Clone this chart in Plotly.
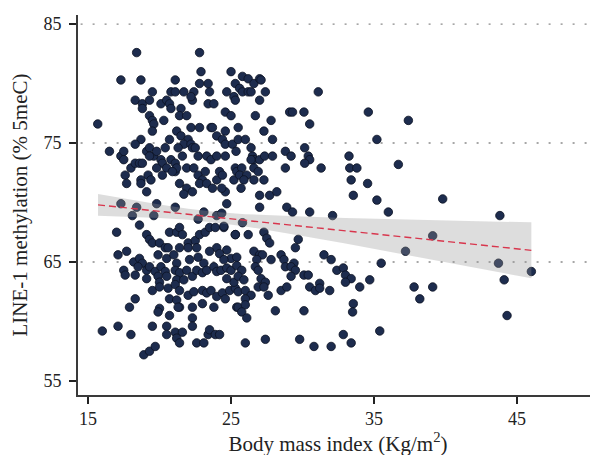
import plotly.graph_objects as go

# ---- data ----
bmi = [
15.68,18.4,22.8,17.3,18.7,21.1,22.9,25.0,
19.5,20.8,21.1,21.7,22.4,22.8,23.4,23.5,24.7,25.2,25.3,
18.3,18.8,19.3,18.8,20.1,20.5,20.7,20.8,21.5,21.4,21.9,22.3,22.2,23.4,23.8,24.6,25.0,
19.3,19.5,19.6,19.5,20.3,22.2,22.8,23.6,23.7,24.6,25.5,
21.2,21.5,22.0,20.7,18.7,18.3,21.7,22.2,22.3,22.5,
24.0,24.4,24.6,25.1,25.5,16.5,17.3,17.5,17.5,
18.0,18.3,18.6,18.8,19.1,19.3,19.6,19.8,19.3,
20.4,20.1,20.8,20.2,21.1,21.3,
19.8,20.5,21.1,21.2,21.6,21.9,22.4,22.7,23.3,23.6,24.0,24.6,
17.6,17.7,18.7,18.7,19.2,19.4,19.1,
20.2,20.9,21.4,21.9,21.7,22.3,22.7,23.0,22.8,23.2,23.3,23.7,24.0,24.2,24.4,24.6,25.2,25.3,
24.7,17.3,18.4,18.1,19.8,19.6,21.1,23.1,22.7,24.0,
18.6,17.0,20.7,21.2,21.4,21.6,
19.1,19.3,19.5,20.0,20.4,20.6,
22.0,22.5,22.8,23.2,23.5,23.9,24.5,25.3,
21.4,22.0,22.6,24.0,24.7,23.5,
17.1,17.7,19.9,20.5,21.0,21.2,22.1,22.7,23.1,24.2,25.0,25.4,
18.2,18.6,18.8,18.5,19.1,17.5,17.6,18.3,19.3,19.7,20.1,20.4,
19.1,19.9,20.0,20.5,21.1,21.4,21.9,21.2,21.7,22.3,22.6,23.0,23.3,23.8,24.0,24.3,24.7,25.0,25.4,
19.5,20.0,20.6,21.1,21.4,20.7,21.2,21.4,22.0,22.4,23.0,23.3,23.6,24.0,24.4,24.9,25.3,25.2,24.7,
18.3,17.9,20.0,19.9,20.7,21.3,22.3,23.0,23.8,25.4,
22.3,22.3,19.5,20.5,20.5,21.1,21.6,21.2,21.4,22.6,23.1,23.4,23.5,23.9,24.2,
16.0,17.1,18.0,18.9,19.3,19.7,
25.8,26.2,26.6,27.0,27.1,25.6,25.8,26.2,26.4,27.4,27.0,25.3,31.1,
26.7,27.8,29.1,29.3,30.1,30.5,34.6,26.0,27.3,27.9,35.2,25.35,
26.4,26.5,26.6,26.4,27.0,27.35,27.9,28.8,29.2,30.15,30.4,30.5,30.15,28.8,31.3,
33.25,33.3,33.8,33.4,34.55,33.55,35.2,36.7,
25.4,25.75,25.6,26.1,26.6,26.9,26.6,27.3,25.9,25.7,24.35,27.0,27.7,28.2,
27.0,28.9,29.3,30.5,32.1,36.0,
24.35,24.5,25.8,27.3,25.3,26.2,27.5,27.7,29.7,29.5,
26.6,27.0,27.2,26.8,27.8,28.5,28.7,29.4,31.5,32.0,35.5,24.5,
25.75,26.7,26.9,28.8,29.2,29.5,29.2,30.1,30.4,32.4,32.85,33.0,33.4,33.0,34.7,
25.5,25.9,27.1,27.4,25.5,26.0,26.4,26.9,27.3,24.6,26.0,25.5,26.0,25.75,26.1,
27.6,28.5,28.9,30.5,30.9,31.2,31.2,31.9,34.0,
28.1,30.1,33.55,33.5,
26.0,27.4,29.8,30.8,32.0,32.85,33.4,35.4,
37.4,39.8,43.8,39.1,37.2,43.7,46.0,44.1,37.8,39.1,38.2,44.3,
]
line1 = [
76.6,82.6,82.6,80.3,80.3,80.3,81.0,81.0,
79.3,79.3,79.3,79.3,79.3,80.0,80.0,79.3,79.3,78.9,80.0,
78.6,78.3,78.6,77.9,78.3,78.6,78.3,77.9,77.9,77.3,77.3,78.6,78.9,78.3,78.3,77.6,77.3,
77.3,76.9,76.6,76.0,76.9,76.3,76.3,76.3,76.3,76.0,76.3,
76.0,75.6,75.3,75.3,75.3,74.9,74.9,74.9,74.6,74.6,
75.6,75.3,74.9,74.9,75.3,74.3,73.9,73.6,74.3,
72.9,73.3,73.3,73.3,74.3,74.6,73.9,74.3,73.9,
74.6,73.6,73.6,73.3,73.3,74.6,
72.9,72.9,72.6,72.9,73.9,72.9,72.9,73.9,73.9,73.6,73.9,73.9,
72.3,71.6,71.9,71.6,72.3,71.9,70.9,
72.3,72.6,71.6,71.2,70.7,70.9,72.3,71.9,71.6,72.6,71.6,71.2,71.9,72.6,72.3,70.9,71.9,72.9,
69.9,69.9,69.6,68.9,69.9,68.9,69.6,69.2,68.6,68.9,
68.1,67.5,67.5,67.5,67.9,67.3,
67.3,66.9,66.6,66.6,66.2,66.2,
66.6,66.8,67.3,67.5,67.9,67.9,67.9,67.3,
66.2,66.2,66.2,66.2,66.0,65.9,
65.6,65.9,65.6,65.3,65.6,64.9,65.2,65.4,64.9,65.7,65.3,65.4,
65.0,65.3,64.9,64.6,64.3,64.3,63.9,63.9,64.6,64.2,64.6,64.2,
63.6,63.8,63.3,63.8,64.3,64.1,64.3,63.5,63.5,63.8,64.3,64.1,64.3,64.6,64.2,64.3,64.5,64.3,64.7,
62.6,62.9,62.8,63.1,62.6,61.9,61.8,61.2,62.2,62.5,62.6,62.4,62.6,62.1,62.4,62.6,62.8,63.3,63.6,
61.9,61.2,61.1,60.8,60.5,61.2,61.2,61.5,61.2,61.2,
60.3,59.6,59.6,59.6,58.9,59.1,59.1,58.6,58.2,58.2,58.2,58.9,59.3,58.9,58.9,
59.2,59.6,58.9,57.2,57.5,57.9,
80.6,80.4,80.0,80.4,80.3,79.6,79.3,79.3,79.3,79.3,78.6,78.6,79.3,
77.3,76.9,77.6,77.6,77.6,76.6,77.6,75.3,76.0,75.3,75.3,74.3,
74.6,73.9,73.6,73.6,73.6,73.9,73.9,74.3,73.9,74.6,73.9,73.6,73.3,72.9,72.9,
73.9,72.9,72.9,71.9,71.6,70.6,70.2,73.2,
72.6,72.9,72.3,72.3,72.9,72.6,71.9,71.9,71.9,71.2,71.2,70.6,70.6,70.9,
69.6,69.6,69.2,69.2,68.9,69.2,
69.1,68.0,68.3,67.5,67.3,67.3,67.0,66.6,66.9,66.2,
65.9,65.6,65.6,65.2,65.2,65.6,65.2,64.9,65.6,65.2,64.9,65.2,
64.3,64.6,64.3,64.6,64.6,64.3,63.8,63.9,63.9,64.3,64.5,63.9,63.6,63.3,63.5,
63.8,63.5,63.6,63.3,62.5,62.6,62.2,62.9,62.9,61.9,61.9,61.2,61.4,60.8,60.3,
62.2,62.6,62.9,62.9,62.6,63.2,62.8,62.6,62.9,
60.9,60.9,61.5,60.8,
58.2,58.5,58.5,57.9,57.9,58.9,58.2,59.2,
76.9,70.3,68.9,67.2,65.9,64.9,64.2,63.5,62.9,62.9,61.9,60.5,
]

# fitted regression line and its 95% confidence band
fit_x = [15.7, 46.0]
fit_y = [69.8, 65.98]
band_x = [15.7, 18, 20, 22, 24, 26, 28, 30, 33, 36, 39, 42, 46]
band_upper = [70.72, 70.23, 69.83, 69.48, 69.20, 69.02, 68.89, 68.82, 68.69, 68.60, 68.51, 68.44, 68.33]
band_lower = [68.88, 68.79, 68.69, 68.54, 68.30, 67.99, 67.61, 67.19, 66.55, 65.88, 65.21, 64.54, 63.63]

x_ticks = [15, 25, 35, 45]
y_ticks = [55, 65, 75, 85]
grid_levels = [65, 75, 85]

FONT = "Liberation Serif"

fig = go.Figure()

fig.add_trace(go.Scatter(
    x=bmi, y=line1, mode="markers",
    marker=dict(size=8.5, color="#1d2c4e", line=dict(color="#0b1222", width=0.8)),
    showlegend=False, hoverinfo="skip"))

fig.add_trace(go.Scatter(
    x=band_x + band_x[::-1], y=band_upper + band_lower[::-1],
    fill="toself", fillcolor="rgba(150,150,150,0.32)",
    line=dict(width=0), mode="lines", showlegend=False, hoverinfo="skip"))

fig.add_trace(go.Scatter(
    x=fit_x, y=fit_y, mode="lines",
    line=dict(color="#d8364d", width=1.4, dash="7px,4px"),
    showlegend=False, hoverinfo="skip"))

for g in grid_levels:
    fig.add_shape(type="line", xref="paper", yref="y", x0=0.005, x1=1, y0=g, y1=g,
                  line=dict(color="#8a8a8a", width=1.3, dash="2px,10px"), layer="below")

axis_common = dict(
    showline=True, linecolor="#3a3a3a", linewidth=1.6,
    ticks="outside", ticklen=7, tickwidth=1.6, tickcolor="#222",
    showgrid=False, zeroline=False, automargin=False,
    tickfont=dict(family=FONT, size=18, color="#222"),
)

fig.update_layout(
    width=598, height=455,
    margin=dict(l=70, r=8, t=7, b=68),
    plot_bgcolor="white", paper_bgcolor="white",
    xaxis=dict(range=[14.3, 50.66], tickvals=x_ticks,
               title=dict(text="Body mass index (Kg/m<sup>2</sup>)",
                          font=dict(family=FONT, size=21, color="#222"), standoff=5),
               **axis_common),
    yaxis=dict(range=[53.82, 85.76], tickvals=y_ticks, ticklabelstandoff=4,
               title=dict(text="LINE-1 methylation (% 5meC)",
                          font=dict(family=FONT, size=21, color="#222"), standoff=10),
               **axis_common),
)

fig.write_html("out.html")
